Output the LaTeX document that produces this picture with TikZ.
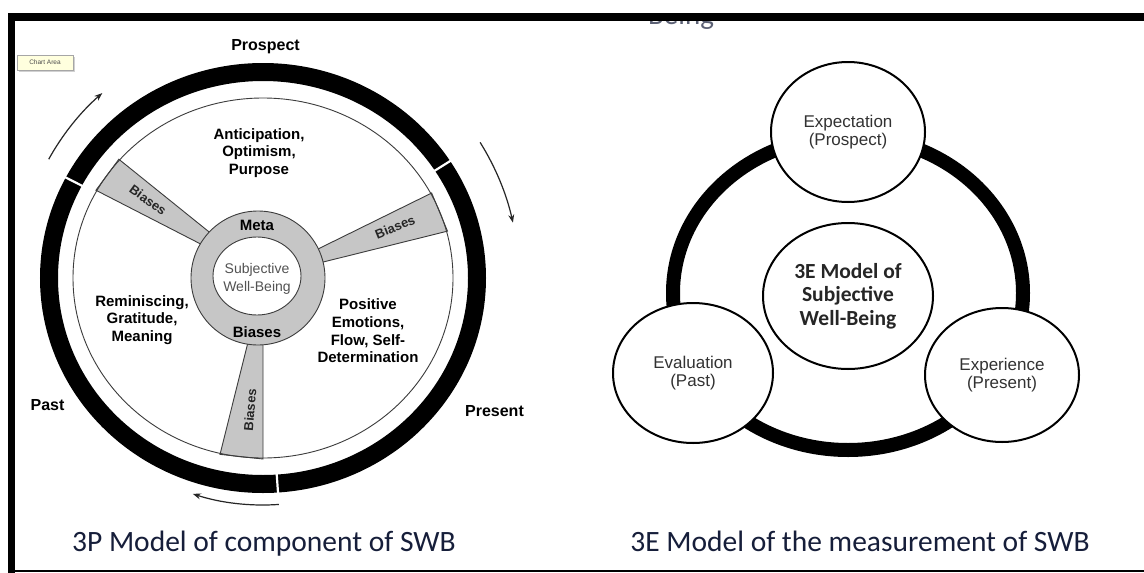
\documentclass[tikz,border=0pt]{standalone}
\usepackage{fontspec}
\setmainfont{Liberation Sans}
\newfontfamily\calfont{Carlito}
\usetikzlibrary{arrows.meta,shapes.geometric}
\definecolor{spokegray}{RGB}{198,198,198}
\definecolor{edgegray}{RGB}{60,60,60}
\definecolor{capcol}{RGB}{22,30,58}
\definecolor{tipfill}{RGB}{255,255,222}
\definecolor{softtext}{RGB}{50,50,50}
\tikzset{
  lbl/.style={font=\fontsize{16}{18}\selectfont\bfseries, inner sep=0pt},
  seg/.style={font=\fontsize{15}{17.7}\selectfont\bfseries, align=center, inner sep=0pt},
  hubtxt/.style={font=\fontsize{15}{17}\selectfont\bfseries, inner sep=0pt},
  swbtxt/.style={font=\fontsize{14}{17.5}\selectfont, text=black!68, align=center, inner sep=0pt},
  spoketxt/.style={font=\fontsize{13}{15}\selectfont\bfseries, text=black!85, inner sep=0pt},
  spokeshape/.style={fill=spokegray, draw=edgegray, line width=0.9pt},
  timearrow/.style={draw=black!85, line width=1.2pt, -{Stealth[length=8pt,width=6pt]}},
  ecirc/.style={ellipse, draw=black, line width=2pt, fill=white, inner sep=0pt,
     font=\fontsize{17}{17.5}\selectfont, text=softtext, align=center},
  caption/.style={font=\calfont\fontsize{29.5}{31}\selectfont, text=capcol, inner sep=0pt, anchor=base}
}
\begin{document}
\begin{tikzpicture}[x=1pt,y=1pt]
\useasboundingbox (0,0) rectangle (1144,-573);
\fill[white] (0,0) rectangle (1144,-573);

% fragment of a text above, only its lower edge shows under the frame line
\begin{scope}
  \clip (600,-21.5) rectangle (760,-40);
  \node[font=\calfont\fontsize{29}{30}\selectfont, text=capcol!70, anchor=base west, inner sep=0pt] (frag) at (648,-24) {Being};
\end{scope}

% ---------------- left: 3P wheel ----------------
\begin{scope}[shift={(263,-278)}]
  \foreach \a/\b in {139/151,15/28,257/270} {
    \filldraw[spokeshape] (\a:55) -- (\a:191 and 181) -- (\b:191 and 181) -- (\b:55) -- cycle;
  }
\end{scope}
% hub
\filldraw[fill=spokegray, draw=edgegray, line width=0.9pt] (258,-278) circle (67);
\filldraw[fill=white, draw=edgegray, line width=0.9pt] (257,-276) ellipse [x radius=44, y radius=39];
\begin{scope}[shift={(263,-278)}]
  \draw[edgegray, line width=0.9pt] (0,0) ellipse [x radius=190, y radius=180];
  \draw[black, line width=18pt] (0,0) ellipse [x radius=214, y radius=206];
  \foreach \g in {32,153,274} {
    \draw[white, line width=2.2pt] (\g:194) -- (\g:234);
  }
  \draw[timearrow] (151:245) arc[start angle=151, end angle=131, radius=245];
  \draw[timearrow] (32:256) arc[start angle=32, end angle=12.5, radius=256];
  \draw[timearrow] (274:227) arc[start angle=274, end angle=252, radius=227];
\end{scope}

\node[lbl, anchor=base] (prospect) at (265.5,-50) {Prospect};
\node[lbl, anchor=base] (past) at (47.5,-410) {Past};
\node[lbl, anchor=base] (present) at (494.5,-416) {Present};

\node[seg] (antic) at (259,-153) {Anticipation,\\Optimism,\\Purpose};
\node[seg] (remin) at (142,-320) {Reminiscing,\\Gratitude,\\Meaning};
\node[seg] (posit) at (368,-331) {Positive\\Emotions,\\Flow, Self-\\Determination};

\node[hubtxt] (meta) at (257,-225) {Meta};
\node[hubtxt] (hubbias) at (257,-332) {Biases};
\node[swbtxt] (swb) at (257,-279) {Subjective\\Well-Being};

\node[spoketxt, rotate=-36] (biasul) at (148,-200) {Biases};
\node[spoketxt, rotate=22] (biasur) at (395,-227) {Biases};
\node[spoketxt, rotate=85] (biasb) at (250,-410) {Biases};

% chart area tooltip
\fill[black!18] (19,-57) rectangle (75,-72);
\node[draw=black!35, fill=tipfill, line width=0.5pt, minimum width=56pt, minimum height=15pt,
      inner sep=0pt, font=\fontsize{6.5}{7}\selectfont, text=black!70] (tip) at (45,-62.5) {Chart Area};

% ---------------- right: 3E model ----------------
\draw[black, line width=14pt] (848,-293) ellipse [x radius=175, y radius=157];
\node[ecirc, minimum width=154pt, minimum height=140pt] (expect) at (848,-132) {Expectation\\(Prospect)};
\node[ecirc, minimum width=170pt, minimum height=146pt,
      font=\calfont\bfseries\fontsize{21.5}{23.5}\selectfont, text=black!85] (core) at (848,-296) {3E Model of\\Subjective\\Well-Being};
\node[ecirc, minimum width=160pt, minimum height=140pt] (evalu) at (693,-373) {Evaluation\\(Past)};
\node[ecirc, minimum width=154pt, minimum height=134pt] (exper) at (1002,-375) {Experience\\(Present)};

% captions
\node[caption] (cap1) at (264,-551) {3P Model of component of SWB};
\node[caption] (cap2) at (860,-551) {3E Model of the measurement of SWB};

% frame
\fill[black] (8,-12.5) rectangle (1144,-21);
\fill[black] (8,-12.5) rectangle (15,-573);
\fill[black] (8,-569.5) rectangle (1144,-571.5);
\end{tikzpicture}
\end{document}
